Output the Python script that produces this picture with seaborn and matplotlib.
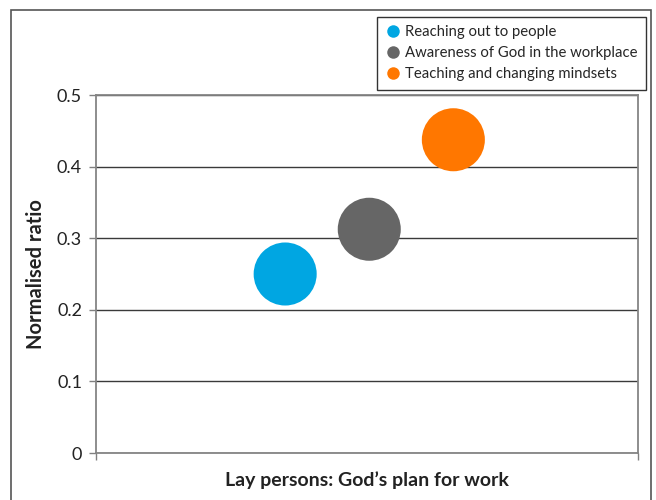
import matplotlib
matplotlib.use("Agg")
import matplotlib.pyplot as plt
import seaborn as sns
import pandas as pd
from matplotlib.lines import Line2D
from matplotlib.patches import Rectangle

# data
themes = ["Reaching out to people",
          "Awareness of God in the workplace",
          "Teaching and changing mindsets"]
x_pos = [1, 2, 3]
ratio = [0.25, 0.3125, 0.4375]
colours = ["#00A6E2", "#666666", "#FF7700"]
y_ticks = [0, 0.1, 0.2, 0.3, 0.4, 0.5]
y_tick_labels = ["0", "0.1", "0.2", "0.3", "0.4", "0.5"]

df = pd.DataFrame({"theme": themes, "x": x_pos, "ratio": ratio})

sns.set_style("white")
plt.rcParams["font.family"] = ["Lato", "DejaVu Sans"]

fig = plt.figure(figsize=(6.56, 5.0), dpi=100)
ax = fig.add_axes([0.1463, 0.094, 0.8255, 0.716])

sns.scatterplot(data=df, x="x", y="ratio", hue="theme", palette=colours,
                s=2060, linewidth=0, legend=False, ax=ax, zorder=3)

ax.set_xlim(-1.25, 5.19)
ax.set_ylim(0, 0.5)
ax.set_yticks(y_ticks)
ax.set_yticklabels(y_tick_labels, fontsize=13, color="#222222")
ax.set_xticks([-1.25, 5.19])
ax.set_xticklabels([])
ax.tick_params(axis="both", direction="out", length=5, width=1, color="#808080",
               left=True, bottom=True, pad=5)

ax.set_axisbelow(True)
ax.yaxis.grid(True, color="#3a3a3a", linewidth=1)
for side in ["left", "right", "top", "bottom"]:
    ax.spines[side].set_visible(True)
    ax.spines[side].set_color("#858585")
    ax.spines[side].set_linewidth(1.3)

ax.set_xlabel("Lay persons: God\u2019s plan for work", fontsize=14,
              fontweight="bold", color="#222222", labelpad=3)
ax.set_ylabel("Normalised ratio", fontsize=14.5, fontweight="bold",
              color="#222222", labelpad=8)

handles = [Line2D([0], [0], marker="o", linestyle="", markersize=9,
                  markerfacecolor=c, markeredgewidth=0) for c in colours]
fig.legend(handles, themes, loc="upper right",
           bbox_to_anchor=(646 / 656, 1 - 17 / 500), borderaxespad=0,
           fontsize=10.7, frameon=True, fancybox=False, edgecolor="#333333",
           framealpha=1, handletextpad=0.35, labelspacing=0.48,
           borderpad=0.55, handlelength=1.0)

# outer chart frame
fig.patches.append(Rectangle((11 / 656, -0.02), 640 / 656, 0.02 + 490 / 500,
                             transform=fig.transFigure, fill=False,
                             edgecolor="#555555", linewidth=1.2))

fig.savefig("out.png", dpi=100)
